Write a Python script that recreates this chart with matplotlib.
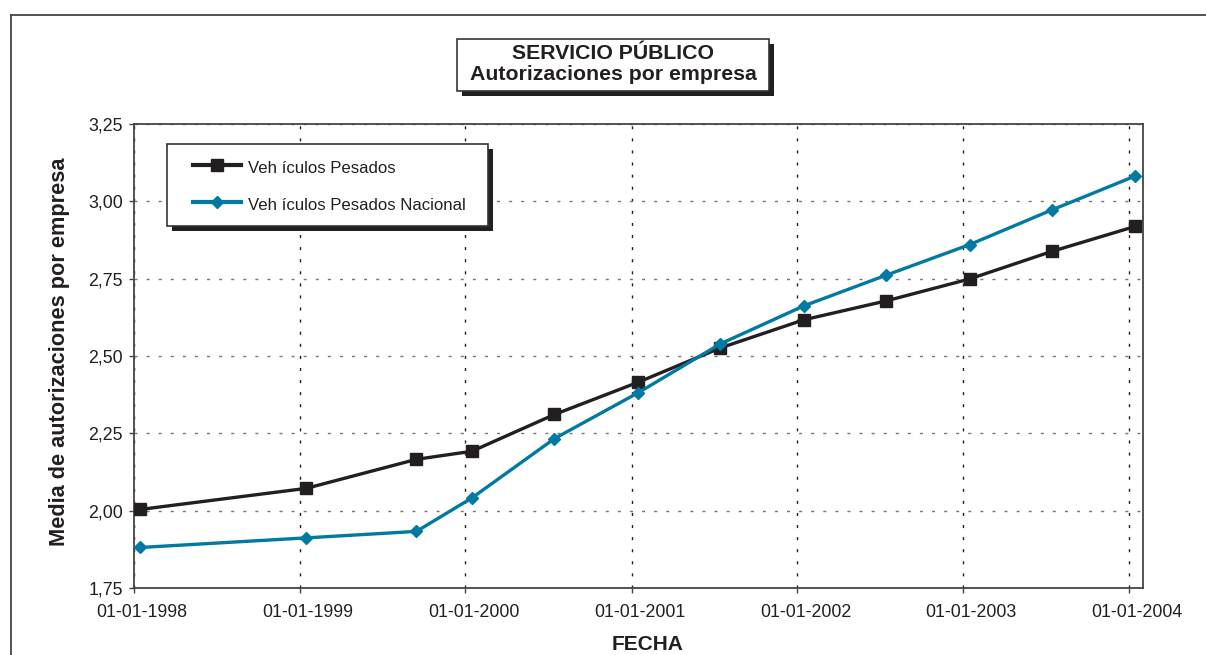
import matplotlib
matplotlib.use("Agg")
import matplotlib.pyplot as plt
import matplotlib.patches as mpatches
import matplotlib.lines as mlines
from matplotlib.transforms import ScaledTranslation
import datetime as dt

plt.rcParams['font.family'] = ['Liberation Sans', 'DejaVu Sans']
plt.rcParams['lines.scale_dashes'] = False

# ---- data ----
fechas = ["1998-01-15", "1999-01-15", "1999-09-15", "2000-01-15", "2000-07-15",
          "2001-01-15", "2001-07-15", "2002-01-15", "2002-07-15", "2003-01-15",
          "2003-07-15", "2004-01-15"]
pesados = [2.004, 2.072, 2.166, 2.192, 2.311, 2.415, 2.526, 2.617, 2.678, 2.749, 2.838, 2.919]
pesados_nacional = [1.881, 1.912, 1.933, 2.041, 2.233, 2.381, 2.539, 2.662, 2.761, 2.860, 2.972, 3.082]
serie_labels = ["Veh ículos Pesados", "Veh ículos Pesados Nacional"]
year_ticks = ["1998-01-01", "1999-01-01", "2000-01-01", "2001-01-01",
              "2002-01-01", "2003-01-01", "2004-01-01"]
year_tick_labels = ["01-01-1998", "01-01-1999", "01-01-2000", "01-01-2001",
                    "01-01-2002", "01-01-2003", "01-01-2004"]
y_ticks = [1.75, 2.00, 2.25, 2.50, 2.75, 3.00, 3.25]
title_lines = ["SERVICIO PÚBLICO", "Autorizaciones por empresa"]
xlabel = "FECHA"
ylabel = "Media de autorizaciones por empresa"

BLACK = "#231F20"
BLUE = "#0079A3"

W, H = 1206, 655
fig = plt.figure(figsize=(W / 100, H / 100), dpi=100)

def fx(px):
    return px / W

def fy(py):
    return 1 - py / H

ax = fig.add_axes([fx(134), fy(588), fx(1143) - fx(134), fy(124) - fy(588)])

x = [dt.datetime.strptime(d, "%Y-%m-%d") for d in fechas]
xt = [dt.datetime.strptime(d, "%Y-%m-%d") for d in year_ticks]

l1, = ax.plot(x, pesados, color=BLACK, lw=2.4, marker='s', markersize=8,
              markerfacecolor=BLACK, markeredgecolor=BLACK, label=serie_labels[0], zorder=3)
l2, = ax.plot(x, pesados_nacional, color=BLUE, lw=2.4, marker='D', markersize=6.5,
              markerfacecolor=BLUE, markeredgecolor=BLUE, label=serie_labels[1], zorder=4)

ax.set_xlim(xt[0], dt.datetime(2004, 2, 1))
ax.set_ylim(y_ticks[0], y_ticks[-1])
ax.set_xticks(xt)
ax.set_xticklabels(year_tick_labels)
ax.set_yticks(y_ticks)
ax.set_yticklabels([f"{v:.2f}".replace('.', ',') for v in y_ticks])

ax.tick_params(axis='both', direction='out', length=3.5, width=1, color='#444444',
               labelsize=12.8, labelcolor=BLACK)
ax.tick_params(axis='y', pad=4.5)
ax.tick_params(axis='x', pad=8)

for lab in ax.get_xticklabels():
    lab.set_transform(lab.get_transform() + ScaledTranslation(8 / 100, 0, fig.dpi_scale_trans))

ax.xaxis.grid(True, color=BLACK, lw=1.0, linestyle=(0, (2.2, 6.5)))
ax.yaxis.grid(True, color='#777777', lw=1.0, linestyle=(0, (2.2, 6.5)))
ax.set_axisbelow(True)

for s in ax.spines.values():
    s.set_color('#444444')
    s.set_linewidth(1.3)

# axis labels
fig.text(fx(648), fy(644), xlabel, ha='center', va='center', fontsize=15,
         fontweight='bold', color=BLACK)
fig.text(fx(60), fy(352), ylabel, ha='center', va='center', rotation=90,
         fontsize=15.7, fontweight='bold', color=BLACK)

# outer frame (cut by the image edges)
fig.add_artist(mlines.Line2D([fx(11), 1.0], [fy(15), fy(15)], color='#444444', lw=1.3,
                             transform=fig.transFigure))
fig.add_artist(mlines.Line2D([fx(11), fx(11)], [fy(15), 0.0], color='#444444', lw=1.3,
                             transform=fig.transFigure))

# boxes with shadow
def shadow_box(x0, y0, x1, y1, off=5):
    fig.add_artist(mpatches.Rectangle((fx(x0 + off), fy(y1 + off)), fx(x1) - fx(x0),
                                      fy(y0) - fy(y1), transform=fig.transFigure,
                                      facecolor=BLACK, edgecolor='none', zorder=5))
    fig.add_artist(mpatches.Rectangle((fx(x0), fy(y1)), fx(x1) - fx(x0),
                                      fy(y0) - fy(y1), transform=fig.transFigure,
                                      facecolor='white', edgecolor='#333333', lw=1.2, zorder=6))

shadow_box(457, 39, 769, 91)
fig.text(fx(613), fy(64), "\n".join(title_lines), ha='center', va='center',
         fontsize=15.3, fontweight='bold', color=BLACK, linespacing=1.12, zorder=7)

shadow_box(167, 144, 488, 226)
leg = ax.legend(handles=[l1, l2], loc='upper left',
                bbox_to_anchor=(fx(193), fy(158)), bbox_transform=fig.transFigure,
                frameon=False, fontsize=12.1, borderpad=0, borderaxespad=0,
                handlelength=2.85, handletextpad=0.42, labelspacing=1.1,
                handleheight=1.3, labelcolor=BLACK)
leg.set_zorder(8)
fig.add_artist(leg)
for h in leg.legend_handles:
    h.set_linewidth(3)

fig.savefig("out.png", dpi=100)
